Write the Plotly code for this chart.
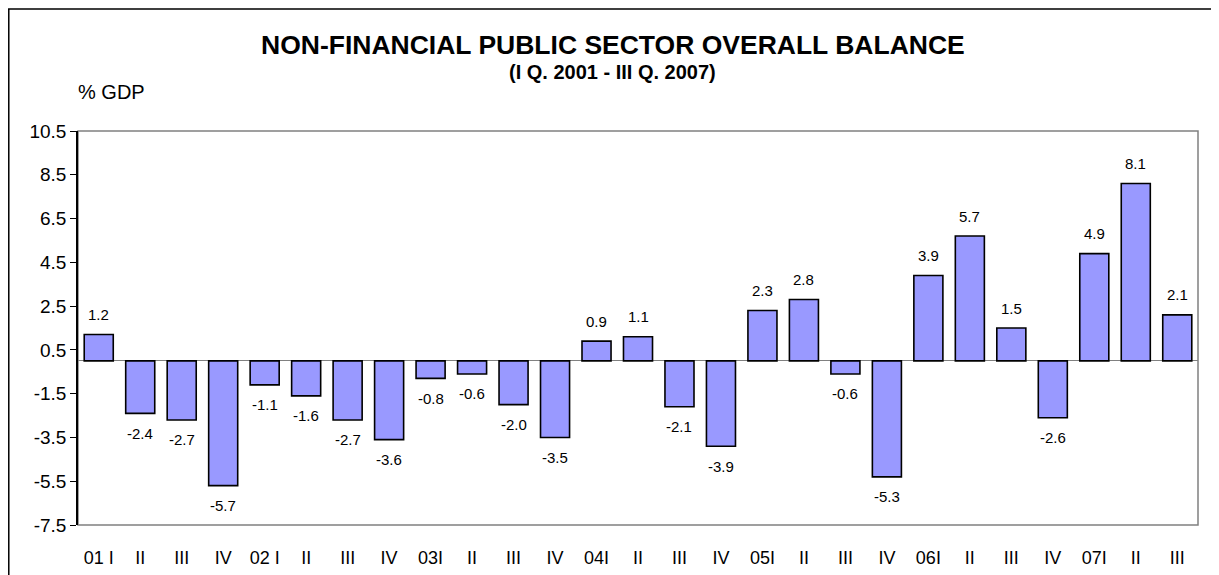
import plotly.graph_objects as go

quarters = ["01 I", "II", "III", "IV", "02 I", "II", "III", "IV",
            "03I", "II", "III", "IV", "04I", "II", "III", "IV",
            "05I", "II", "III", "IV", "06I", "II", "III", "IV",
            "07I", "II", "III"]
balance = [1.2, -2.4, -2.7, -5.7, -1.1, -1.6, -2.7, -3.6,
           -0.8, -0.6, -2.0, -3.5, 0.9, 1.1, -2.1, -3.9,
           2.3, 2.8, -0.6, -5.3, 3.9, 5.7, 1.5, -2.6,
           4.9, 8.1, 2.1]
y_ticks = [-7.5, -5.5, -3.5, -1.5, 0.5, 2.5, 4.5, 6.5, 8.5, 10.5]

FONT = "Liberation Sans, Arial, sans-serif"
x_pos = list(range(len(balance)))

fig = go.Figure()
fig.add_trace(go.Bar(
    x=x_pos, y=balance, width=0.7,
    marker=dict(color="#9999FF", line=dict(color="black", width=1.6)),
    hoverinfo="x+y", showlegend=False,
))

annotations = []
for xi, v in zip(x_pos, balance):
    annotations.append(dict(
        x=xi, y=v, xref="x", yref="y", text=f"{v:.1f}", showarrow=False,
        yshift=20 if v >= 0 else -20,
        font=dict(family=FONT, size=15, color="black"),
    ))

annotations += [
    dict(text="<b>NON-FINANCIAL PUBLIC SECTOR OVERALL BALANCE</b>",
         xref="paper", yref="paper", x=0.4773, y=1.2195, showarrow=False,
         xanchor="center", yanchor="middle",
         font=dict(family=FONT, size=26.5, color="black")),
    dict(text="<b>(I Q. 2001 - III Q. 2007)</b>",
         xref="paper", yref="paper", x=0.4773, y=1.1485, showarrow=False,
         xanchor="center", yanchor="middle",
         font=dict(family=FONT, size=20, color="black")),
    dict(text="% GDP",
         xref="paper", yref="paper", x=-0.002, y=1.099, showarrow=False,
         xanchor="left", yanchor="middle",
         font=dict(family=FONT, size=20, color="black")),
]

shapes = [
    # plot area frame (gray)
    dict(type="rect", xref="paper", yref="paper", x0=0, x1=1, y0=0, y1=1,
         line=dict(color="#808080", width=1.5), layer="below"),
    # outer chart border
    dict(type="rect", xref="paper", yref="paper", x0=-0.0618, x1=1.0152,
         y0=-0.16, y1=1.3096, line=dict(color="black", width=1.5)),
]

fig.update_layout(
    width=1211, height=567,
    margin=dict(l=70, r=21, t=123, b=50, autoexpand=False),
    paper_bgcolor="white", plot_bgcolor="white",
    bargap=0.3,
    annotations=annotations, shapes=shapes,
    font=dict(family=FONT, color="black"),
    xaxis=dict(
        range=[-0.5, len(balance) - 0.5],
        tickmode="array", tickvals=x_pos, ticktext=quarters,
        ticks="", showline=False, showgrid=False, zeroline=False,
        ticklabelstandoff=20, automargin=False,
        tickfont=dict(family=FONT, size=18, color="black"),
    ),
    yaxis=dict(
        range=[-7.5, 10.5], automargin=False,
        tickmode="array", tickvals=y_ticks,
        ticktext=[f"{t:.1f}" for t in y_ticks],
        ticks="outside", ticklen=6, tickcolor="black", tickwidth=1.2,
        showline=True, linecolor="black", linewidth=1.5,
        showgrid=False,
        zeroline=True, zerolinecolor="#808080", zerolinewidth=1.2,
        tickfont=dict(family=FONT, size=19, color="black"),
    ),
)

fig.write_html("out.html")
